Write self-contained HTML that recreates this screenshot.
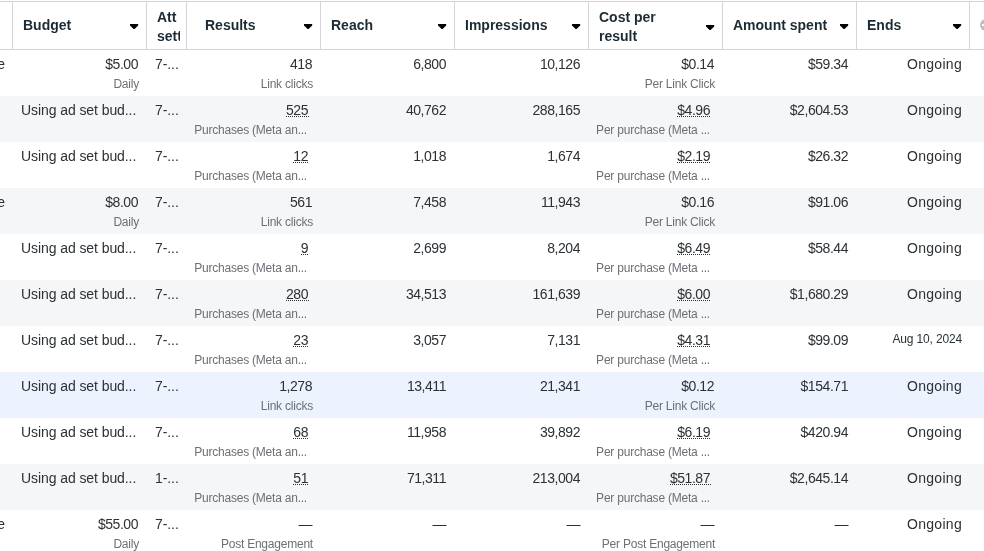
<!DOCTYPE html><html><head><meta charset="utf-8"><style>
*{margin:0;padding:0;box-sizing:border-box}
html,body{width:984px;height:551px;overflow:hidden;background:#fff;font-family:"Liberation Sans",sans-serif;}
.lay{position:absolute;left:0;top:0;width:984px;height:551px;will-change:transform}
.a{position:absolute;white-space:nowrap}
.hl{position:absolute;left:0;width:984px;height:1px;background:#d3d5d8}
.vl{position:absolute;top:1px;width:1px;height:49px;background:#d3d5d8}
.ht{position:absolute;font-weight:bold;font-size:14px;line-height:18.67px;color:#1c2b33;overflow:hidden;white-space:nowrap}
.tri{position:absolute;width:9px;height:6px}
.row{position:absolute;left:0;width:984px;height:46px}
.m{position:absolute;font-size:14px;line-height:16px;color:#2b3135;white-space:nowrap;letter-spacing:-0.45px}
.mt{letter-spacing:-0.08px}
.s{position:absolute;font-size:12px;line-height:14px;color:#6c7075;white-space:nowrap;letter-spacing:-0.22px}
.r{text-align:right}
.sd{color:#2a3338;letter-spacing:-0.15px}
.og{letter-spacing:0.3px}
.u{position:relative}
.u::after{content:"";position:absolute;left:0;right:-1px;bottom:1px;height:1px;background:linear-gradient(to right,#2b3135 50%,transparent 50%) 0 0/2px 1px repeat-x}
</style></head><body><div class="lay">
<div class="hl" style="top:1px"></div><div class="hl" style="top:49px"></div>
<div class="vl" style="left:12px"></div>
<div class="vl" style="left:146px"></div>
<div class="vl" style="left:186px"></div>
<div class="vl" style="left:320px"></div>
<div class="vl" style="left:454px"></div>
<div class="vl" style="left:588px"></div>
<div class="vl" style="left:722px"></div>
<div class="vl" style="left:856px"></div>
<div class="vl" style="left:969px"></div>
<div class="ht" style="left:23px;top:16px;width:117px">Budget</div>
<svg class="tri" style="left:130px;top:24px" viewBox="0 0 9 6"><path d="M0,0 H8.2 V1.6 L4.6,5.1 H3.6 L0,1.6 Z" fill="#000"/></svg>
<div class="ht" style="left:157px;top:8px;width:23px">Att<br>setting</div>
<div class="ht" style="left:205px;top:16px;width:109px">Results</div>
<svg class="tri" style="left:304px;top:24px" viewBox="0 0 9 6"><path d="M0,0 H8.2 V1.6 L4.6,5.1 H3.6 L0,1.6 Z" fill="#000"/></svg>
<div class="ht" style="left:331px;top:16px;width:117px">Reach</div>
<svg class="tri" style="left:438px;top:24px" viewBox="0 0 9 6"><path d="M0,0 H8.2 V1.6 L4.6,5.1 H3.6 L0,1.6 Z" fill="#000"/></svg>
<div class="ht" style="left:465px;top:16px;width:117px">Impressions</div>
<svg class="tri" style="left:572px;top:24px" viewBox="0 0 9 6"><path d="M0,0 H8.2 V1.6 L4.6,5.1 H3.6 L0,1.6 Z" fill="#000"/></svg>
<div class="ht" style="left:599px;top:8px;width:117px">Cost per<br>result</div>
<svg class="tri" style="left:706px;top:25px" viewBox="0 0 9 6"><path d="M0,0 H8.2 V1.6 L4.6,5.1 H3.6 L0,1.6 Z" fill="#000"/></svg>
<div class="ht" style="left:733px;top:16px;width:117px">Amount spent</div>
<svg class="tri" style="left:840px;top:24px" viewBox="0 0 9 6"><path d="M0,0 H8.2 V1.6 L4.6,5.1 H3.6 L0,1.6 Z" fill="#000"/></svg>
<div class="ht" style="left:867px;top:16px;width:96px">Ends</div>
<svg class="tri" style="left:953px;top:24px" viewBox="0 0 9 6"><path d="M0,0 H8.2 V1.6 L4.6,5.1 H3.6 L0,1.6 Z" fill="#000"/></svg>
<div class="a" style="left:979.5px;top:18.5px;width:12px;height:12px;border-radius:50%;background:#bcbfc3"></div>
<div class="a" style="left:982px;top:24px;width:6px;height:1.5px;background:#fff"></div>
<div class="row" style="top:50px;background:#ffffff">
<div class="m mt" style="left:-41px;top:6px;width:46px;text-align:right">Active</div>
<div class="m r" style="left:12px;top:6px;width:126px">$5.00</div>
<div class="s r" style="left:12px;top:27px;width:127px">Daily</div>
<div class="m mt" style="left:155px;top:6px">7-...</div>
<div class="m r" style="left:186px;top:6px;width:126px">418</div>
<div class="s r" style="left:186px;top:27px;width:127px">Link clicks</div>
<div class="m r" style="left:320px;top:6px;width:126px">6,800</div>
<div class="m r" style="left:454px;top:6px;width:126px">10,126</div>
<div class="m r" style="left:588px;top:6px;width:126px">$0.14</div>
<div class="s r" style="left:588px;top:27px;width:127px">Per Link Click</div>
<div class="m r" style="left:722px;top:6px;width:126px">$59.34</div>
<div class="m og r" style="left:856px;top:6px;width:106px">Ongoing</div>
</div>
<div class="row" style="top:96px;background:#f5f6f7">
<div class="m mt" style="left:21px;top:6px">Using ad set bud...</div>
<div class="m mt" style="left:155px;top:6px">7-...</div>
<div class="m r" style="left:186px;top:6px;width:122px"><span class="u">525</span></div>
<div class="s r" style="left:186px;top:27px;width:121px">Purchases (Meta an...</div>
<div class="m r" style="left:320px;top:6px;width:126px">40,762</div>
<div class="m r" style="left:454px;top:6px;width:126px">288,165</div>
<div class="m r" style="left:588px;top:6px;width:122px"><span class="u">$4.96</span></div>
<div class="s r" style="left:588px;top:27px;width:122px">Per purchase (Meta ...</div>
<div class="m r" style="left:722px;top:6px;width:126px">$2,604.53</div>
<div class="m og r" style="left:856px;top:6px;width:106px">Ongoing</div>
</div>
<div class="row" style="top:142px;background:#ffffff">
<div class="m mt" style="left:21px;top:6px">Using ad set bud...</div>
<div class="m mt" style="left:155px;top:6px">7-...</div>
<div class="m r" style="left:186px;top:6px;width:122px"><span class="u">12</span></div>
<div class="s r" style="left:186px;top:27px;width:121px">Purchases (Meta an...</div>
<div class="m r" style="left:320px;top:6px;width:126px">1,018</div>
<div class="m r" style="left:454px;top:6px;width:126px">1,674</div>
<div class="m r" style="left:588px;top:6px;width:122px"><span class="u">$2.19</span></div>
<div class="s r" style="left:588px;top:27px;width:122px">Per purchase (Meta ...</div>
<div class="m r" style="left:722px;top:6px;width:126px">$26.32</div>
<div class="m og r" style="left:856px;top:6px;width:106px">Ongoing</div>
</div>
<div class="row" style="top:188px;background:#f5f6f7">
<div class="m mt" style="left:-41px;top:6px;width:46px;text-align:right">Active</div>
<div class="m r" style="left:12px;top:6px;width:126px">$8.00</div>
<div class="s r" style="left:12px;top:27px;width:127px">Daily</div>
<div class="m mt" style="left:155px;top:6px">7-...</div>
<div class="m r" style="left:186px;top:6px;width:126px">561</div>
<div class="s r" style="left:186px;top:27px;width:127px">Link clicks</div>
<div class="m r" style="left:320px;top:6px;width:126px">7,458</div>
<div class="m r" style="left:454px;top:6px;width:126px">11,943</div>
<div class="m r" style="left:588px;top:6px;width:126px">$0.16</div>
<div class="s r" style="left:588px;top:27px;width:127px">Per Link Click</div>
<div class="m r" style="left:722px;top:6px;width:126px">$91.06</div>
<div class="m og r" style="left:856px;top:6px;width:106px">Ongoing</div>
</div>
<div class="row" style="top:234px;background:#ffffff">
<div class="m mt" style="left:21px;top:6px">Using ad set bud...</div>
<div class="m mt" style="left:155px;top:6px">7-...</div>
<div class="m r" style="left:186px;top:6px;width:122px"><span class="u">9</span></div>
<div class="s r" style="left:186px;top:27px;width:121px">Purchases (Meta an...</div>
<div class="m r" style="left:320px;top:6px;width:126px">2,699</div>
<div class="m r" style="left:454px;top:6px;width:126px">8,204</div>
<div class="m r" style="left:588px;top:6px;width:122px"><span class="u">$6.49</span></div>
<div class="s r" style="left:588px;top:27px;width:122px">Per purchase (Meta ...</div>
<div class="m r" style="left:722px;top:6px;width:126px">$58.44</div>
<div class="m og r" style="left:856px;top:6px;width:106px">Ongoing</div>
</div>
<div class="row" style="top:280px;background:#f5f6f7">
<div class="m mt" style="left:21px;top:6px">Using ad set bud...</div>
<div class="m mt" style="left:155px;top:6px">7-...</div>
<div class="m r" style="left:186px;top:6px;width:122px"><span class="u">280</span></div>
<div class="s r" style="left:186px;top:27px;width:121px">Purchases (Meta an...</div>
<div class="m r" style="left:320px;top:6px;width:126px">34,513</div>
<div class="m r" style="left:454px;top:6px;width:126px">161,639</div>
<div class="m r" style="left:588px;top:6px;width:122px"><span class="u">$6.00</span></div>
<div class="s r" style="left:588px;top:27px;width:122px">Per purchase (Meta ...</div>
<div class="m r" style="left:722px;top:6px;width:126px">$1,680.29</div>
<div class="m og r" style="left:856px;top:6px;width:106px">Ongoing</div>
</div>
<div class="row" style="top:326px;background:#ffffff">
<div class="m mt" style="left:21px;top:6px">Using ad set bud...</div>
<div class="m mt" style="left:155px;top:6px">7-...</div>
<div class="m r" style="left:186px;top:6px;width:122px"><span class="u">23</span></div>
<div class="s r" style="left:186px;top:27px;width:121px">Purchases (Meta an...</div>
<div class="m r" style="left:320px;top:6px;width:126px">3,057</div>
<div class="m r" style="left:454px;top:6px;width:126px">7,131</div>
<div class="m r" style="left:588px;top:6px;width:122px"><span class="u">$4.31</span></div>
<div class="s r" style="left:588px;top:27px;width:122px">Per purchase (Meta ...</div>
<div class="m r" style="left:722px;top:6px;width:126px">$99.09</div>
<div class="s sd r" style="left:856px;top:6px;width:106px">Aug 10, 2024</div>
</div>
<div class="row" style="top:372px;background:#ecf3fe">
<div class="m mt" style="left:21px;top:6px">Using ad set bud...</div>
<div class="m mt" style="left:155px;top:6px">7-...</div>
<div class="m r" style="left:186px;top:6px;width:126px">1,278</div>
<div class="s r" style="left:186px;top:27px;width:127px">Link clicks</div>
<div class="m r" style="left:320px;top:6px;width:126px">13,411</div>
<div class="m r" style="left:454px;top:6px;width:126px">21,341</div>
<div class="m r" style="left:588px;top:6px;width:126px">$0.12</div>
<div class="s r" style="left:588px;top:27px;width:127px">Per Link Click</div>
<div class="m r" style="left:722px;top:6px;width:126px">$154.71</div>
<div class="m og r" style="left:856px;top:6px;width:106px">Ongoing</div>
</div>
<div class="row" style="top:418px;background:#ffffff">
<div class="m mt" style="left:21px;top:6px">Using ad set bud...</div>
<div class="m mt" style="left:155px;top:6px">7-...</div>
<div class="m r" style="left:186px;top:6px;width:122px"><span class="u">68</span></div>
<div class="s r" style="left:186px;top:27px;width:121px">Purchases (Meta an...</div>
<div class="m r" style="left:320px;top:6px;width:126px">11,958</div>
<div class="m r" style="left:454px;top:6px;width:126px">39,892</div>
<div class="m r" style="left:588px;top:6px;width:122px"><span class="u">$6.19</span></div>
<div class="s r" style="left:588px;top:27px;width:122px">Per purchase (Meta ...</div>
<div class="m r" style="left:722px;top:6px;width:126px">$420.94</div>
<div class="m og r" style="left:856px;top:6px;width:106px">Ongoing</div>
</div>
<div class="row" style="top:464px;background:#f5f6f7">
<div class="m mt" style="left:21px;top:6px">Using ad set bud...</div>
<div class="m mt" style="left:155px;top:6px">1-...</div>
<div class="m r" style="left:186px;top:6px;width:122px"><span class="u">51</span></div>
<div class="s r" style="left:186px;top:27px;width:121px">Purchases (Meta an...</div>
<div class="m r" style="left:320px;top:6px;width:126px">71,311</div>
<div class="m r" style="left:454px;top:6px;width:126px">213,004</div>
<div class="m r" style="left:588px;top:6px;width:122px"><span class="u">$51.87</span></div>
<div class="s r" style="left:588px;top:27px;width:122px">Per purchase (Meta ...</div>
<div class="m r" style="left:722px;top:6px;width:126px">$2,645.14</div>
<div class="m og r" style="left:856px;top:6px;width:106px">Ongoing</div>
</div>
<div class="row" style="top:510px;background:#ffffff">
<div class="m mt" style="left:-41px;top:6px;width:46px;text-align:right">Active</div>
<div class="m r" style="left:12px;top:6px;width:126px">$55.00</div>
<div class="s r" style="left:12px;top:27px;width:127px">Daily</div>
<div class="m mt" style="left:155px;top:6px">7-...</div>
<div class="m r" style="left:186px;top:6px;width:126px">—</div>
<div class="s r" style="left:186px;top:27px;width:127px">Post Engagement</div>
<div class="m r" style="left:320px;top:6px;width:126px">—</div>
<div class="m r" style="left:454px;top:6px;width:126px">—</div>
<div class="m r" style="left:588px;top:6px;width:126px">—</div>
<div class="s r" style="left:588px;top:27px;width:127px">Per Post Engagement</div>
<div class="m r" style="left:722px;top:6px;width:126px">—</div>
<div class="m og r" style="left:856px;top:6px;width:106px">Ongoing</div>
</div>
</div></body></html>
